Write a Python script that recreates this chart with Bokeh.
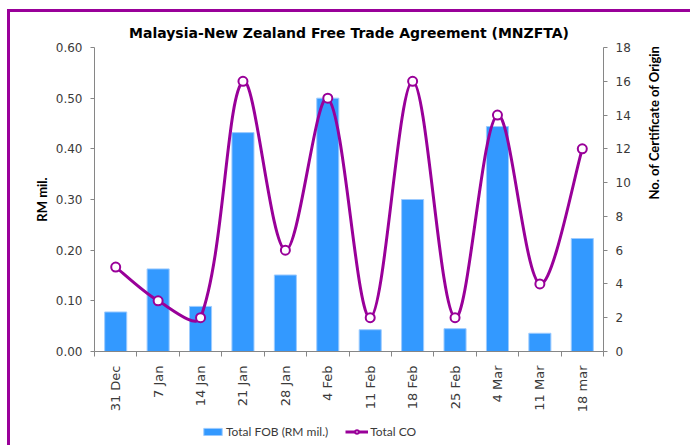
import math
from bokeh.plotting import figure
from bokeh.layouts import column
from bokeh.models import (Range1d, LinearAxis, FixedTicker, PrintfTickFormatter,
                          Legend, LegendItem, ColumnDataSource)
from bokeh.embed import file_html
from bokeh.resources import INLINE

# ---- data ----
weeks = ["31 Dec", "7 Jan", "14 Jan", "21 Jan", "28 Jan", "4 Feb",
         "11 Feb", "18 Feb", "25 Feb", "4 Mar", "11 Mar", "18 mar"]
total_fob = [0.078, 0.163, 0.089, 0.432, 0.151, 0.500,
             0.043, 0.300, 0.045, 0.444, 0.036, 0.223]
total_co = [5, 3, 2, 16, 6, 15, 2, 16, 2, 14, 4, 12]
fob_ticks = [0.0, 0.1, 0.2, 0.3, 0.4, 0.5, 0.6]
co_ticks = [0, 2, 4, 6, 8, 10, 12, 14, 16, 18]
legend_labels = ["Total FOB (RM mil.)", "Total CO"]

W = 680
FW, FH = 509, 304
BL, BR, BT, BB = 84, 87, 35, 70
H1 = BT + FH + BB
H2 = 24

PURPLE = "#990099"
BLUE = "#3399FF"
AXIS = "#868686"
TXT = "#3a3a3a"

p = figure(width=W, height=H1, output_backend="svg", toolbar_location=None,
           x_range=Range1d(-0.5, len(weeks) - 0.5), y_range=Range1d(0, 0.6),
           min_border_left=BL, min_border_right=BR, min_border_top=BT,
           min_border_bottom=BB, x_axis_location=None, y_axis_location=None)
p.extra_y_ranges = {"co": Range1d(0, 18)}
p.grid.visible = False
p.outline_line_color = None

p.title.text = "Malaysia-New Zealand Free Trade Agreement (MNZFTA)"
p.title.align = "center"
p.title.text_font = "DejaVu Sans"
p.title.text_font_style = "bold"
p.title.text_font_size = "14px"
p.title.text_color = "#000000"
p.title.standoff = 14

# x axis
xs = list(range(len(weeks)))
xaxis = LinearAxis(ticker=FixedTicker(ticks=xs, minor_ticks=[i - 0.5 for i in range(len(weeks) + 1)]))
xaxis.major_label_overrides = {i: w for i, w in enumerate(weeks)}
xaxis.major_label_orientation = math.pi / 2
xaxis.major_tick_line_color = None
xaxis.major_tick_out = 0
xaxis.major_tick_in = 0
xaxis.minor_tick_line_color = AXIS
xaxis.minor_tick_out = 5
xaxis.minor_tick_in = 0
xaxis.axis_line_color = AXIS
xaxis.major_label_standoff = 9
xaxis.major_label_text_font = "DejaVu Sans"
xaxis.major_label_text_font_size = "13px"
xaxis.major_label_text_color = TXT
p.add_layout(xaxis, "below")

# left axis
yl = LinearAxis(ticker=FixedTicker(ticks=fob_ticks), formatter=PrintfTickFormatter(format="%.2f"),
                axis_label="RM mil.")
# right axis
yr = LinearAxis(y_range_name="co", ticker=FixedTicker(ticks=co_ticks),
                axis_label="No. of Certificate of Origin")
for ax in (yl, yr):
    ax.axis_line_color = AXIS
    ax.major_tick_line_color = AXIS
    ax.major_tick_in = 0
    ax.major_tick_out = 4
    ax.minor_tick_line_color = None
    ax.major_label_text_font = "DejaVu Sans"
    ax.major_label_text_font_size = "12px"
    ax.major_label_text_color = TXT
    ax.major_label_standoff = 8
    ax.axis_label_text_font = "Lato"
    ax.axis_label_text_font_style = "bold"
    ax.axis_label_text_font_size = "13px"
    ax.axis_label_text_color = "#000000"
yl.axis_label_standoff = 3
yr.axis_label_standoff = 20
yr.axis_label_orientation = math.pi / 2
p.add_layout(yl, "left")
p.add_layout(yr, "right")

# bars
bar_style = dict(fill_color=BLUE, line_color="#9CCBFF", line_width=1)
p.vbar(x=xs, top=total_fob, width=0.52, **bar_style)

# smoothed line (chord-length cardinal spline through data points, Excel-like)
px_x = FW / len(weeks)
px_y = FH / 18.0
n = len(total_co)
pts = [(xs[i], total_co[i]) for i in range(n)]

def dist(a, b):
    return math.hypot((a[0] - b[0]) * px_x, (a[1] - b[1]) * px_y)

x0s, y0s, x1s, y1s, cx0s, cy0s, cx1s, cy1s = [], [], [], [], [], [], [], []
for i in range(n - 1):
    P0 = pts[i - 1] if i > 0 else pts[i]
    P1 = pts[i]
    P2 = pts[i + 1]
    P3 = pts[i + 2] if i + 2 < n else pts[i + 1]
    d01, d12, d23 = dist(P0, P1), dist(P1, P2), dist(P2, P3)
    f1 = (1 / 3) * d12 / (d01 + d12) if d01 + d12 > 0 else 0
    f2 = (1 / 3) * d12 / (d12 + d23) if d12 + d23 > 0 else 0
    if i == 0:
        f1 = 1 / 3 * 0.5
    if i + 2 >= n:
        f2 = 1 / 3 * 0.5
    C1 = (P1[0] + (P2[0] - P0[0]) * f1, P1[1] + (P2[1] - P0[1]) * f1)
    C2 = (P2[0] - (P3[0] - P1[0]) * f2, P2[1] - (P3[1] - P1[1]) * f2)
    x0s.append(P1[0]); y0s.append(P1[1]); x1s.append(P2[0]); y1s.append(P2[1])
    cx0s.append(C1[0]); cy0s.append(C1[1]); cx1s.append(C2[0]); cy1s.append(C2[1])

bez_src = ColumnDataSource(dict(x0=x0s, y0=y0s, x1=x1s, y1=y1s, cx0=cx0s, cy0=cy0s, cx1=cx1s, cy1=cy1s))
line_style = dict(line_color=PURPLE, line_width=3)
mark_style = dict(size=9, marker="circle", fill_color="white", line_color=PURPLE, line_width=2)
p.bezier(x0="x0", y0="y0", x1="x1", y1="y1", cx0="cx0", cy0="cy0", cx1="cx1", cy1="cy1",
         source=bez_src, y_range_name="co", **line_style)
p.scatter(x=xs, y=total_co, y_range_name="co", **mark_style)

# ---- legend strip (separate small figure below the chart) ----
p2 = figure(width=W, height=H2, output_backend="svg", toolbar_location=None,
            x_range=Range1d(0, 1), y_range=Range1d(0, 1),
            min_border_left=0, min_border_right=0, min_border_top=0, min_border_bottom=0,
            x_axis_location=None, y_axis_location=None)
p2.grid.visible = False
p2.outline_line_color = None
# legend-only proxies, kept outside the visible range
lb = p2.vbar(x=[-1], top=[-1], bottom=[-2], width=0.1, **bar_style)
ll = p2.line(x=[-2, -1], y=[-1, -1], **line_style)
lm = p2.scatter(x=[-1], y=[-1], **mark_style)

legend = Legend(items=[LegendItem(label=legend_labels[0], renderers=[lb]),
                       LegendItem(label=legend_labels[1], renderers=[ll, lm])],
                orientation="horizontal", location=(107, 6))
legend.border_line_color = None
legend.background_fill_alpha = 0
legend.label_text_font = "Lato"
legend.label_text_font_size = "12px"
legend.label_text_color = TXT
legend.glyph_width = 23
legend.glyph_height = 9
legend.label_standoff = 2
legend.spacing = 17
legend.padding = 2
legend.margin = 0
p2.add_layout(legend, "center")

layout = column(p, p2, spacing=0,
                styles={"border-left": "3px solid " + PURPLE, "border-top": "3px solid " + PURPLE,
                        "margin-left": "7px", "margin-top": "9px"})

open("out.html", "w").write(file_html(layout, INLINE))
